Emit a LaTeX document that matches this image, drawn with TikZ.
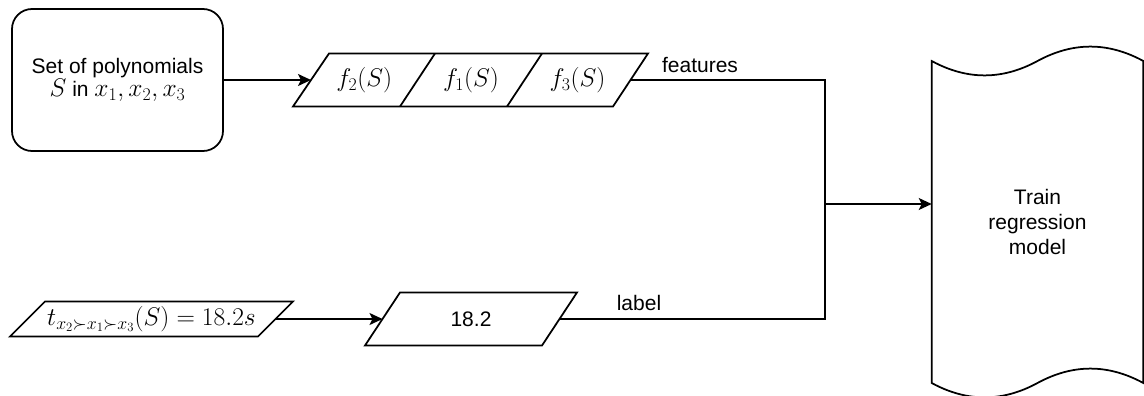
\RequirePackage{fix-cm}
\documentclass[tikz,border=0pt]{standalone}
\usepackage[no-math]{fontspec}
\setmainfont{Liberation Sans}
\usetikzlibrary{arrows.meta}
\newcommand\mth[1]{{\fontsize{25.5}{26}\selectfont$#1$}}
\tikzset{
  ln/.style={line width=1.75pt, draw=black},
  arr/.style={ln, -{Stealth[length=13pt,width=12pt,inset=3pt]}},
  txt/.style={font={\fontsize{21}{25}\selectfont}, align=center, inner sep=0pt, text=black},
  srcbox/.style={ln, rounded corners=20pt, minimum width=211pt, minimum height=142pt, inner sep=0pt},
}
\begin{document}
\begin{tikzpicture}[x=1pt,y=-1pt]
\useasboundingbox (0,0) rectangle (1144,396);
% source box
\node[srcbox, txt, font={\fontsize{21}{22.5}\selectfont}] (src) at (117.5,80) {Set of polynomials\\\mth{S} in \mth{x_1, x_2, x_3}};
% feature parallelograms
\draw[ln, line join=miter] (329,53.5) -- (648,53.5) -- (613,106.5) -- (293,106.5) -- cycle;
\draw[ln] (435,53.5) -- (400,106.5);
\draw[ln] (542,53.5) -- (507,106.5);
\node[txt] (f2) at (364.25,80) {\mth{f_2(S)}};
\node[txt] (f1) at (471,80) {\mth{f_1(S)}};
\node[txt] (f3) at (577.5,80) {\mth{f_3(S)}};
\coordinate (fw) at (311,80);
\coordinate (fe) at (630.5,80);
% timing parallelogram
\draw[ln, line join=miter] (45,301.5) -- (293,301.5) -- (258,336.5) -- (10,336.5) -- cycle;
\node[txt] (t) at (151.5,319) {\mth{t_{x_2\succ x_1\succ x_3}(S) = 18.2s}};
\coordinate (te) at (275.5,319);
% label parallelogram
\draw[ln, line join=miter] (400,292.5) -- (577,292.5) -- (542,345.5) -- (365,345.5) -- cycle;
\node[txt] (lab) at (471,319) {18.2};
\coordinate (lw) at (382.5,319);
\coordinate (le) at (559.5,319);
% train tape
\draw[ln] (931.7,61) .. controls (966.97,80.2) and (1002.2,80.2) .. (1037.5,61)
  .. controls (1072.8,41.8) and (1108.0,41.8) .. (1143.3,61)
  -- (1143.3,383)
  .. controls (1108.0,363.8) and (1072.8,363.8) .. (1037.5,383)
  .. controls (1002.2,402.2) and (966.97,402.2) .. (931.7,383) -- cycle;
\node[txt] (train) at (1037.5,222) {Train\\regression\\model};
\coordinate (trw) at (931.7,204);
\coordinate (j) at (825,204);
% connectors
\draw[arr] (src.east) -- (fw);
\draw[arr] (te) -- (lw);
\draw[ln] (fe) -| (j);
\draw[ln] (le) -| (j);
\draw[arr] (j) -- (trw);
% edge labels
\node[txt] (featl) at (700,65) {features};
\node[txt] (labl) at (639,303) {label};
\end{tikzpicture}
\end{document}
